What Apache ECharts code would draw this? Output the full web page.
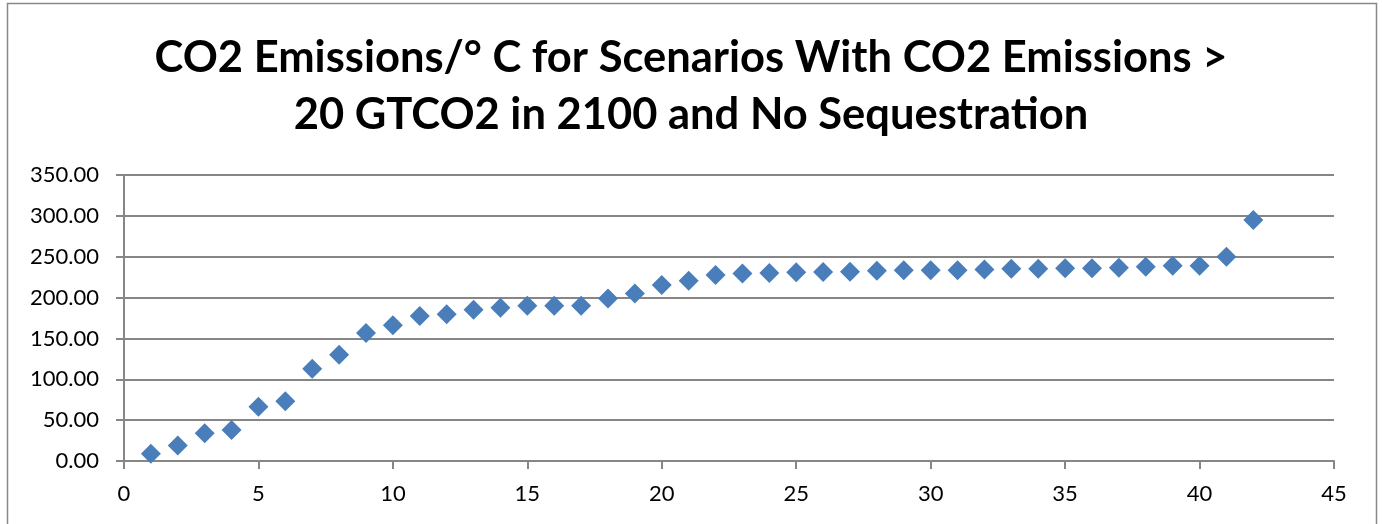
<!DOCTYPE html>
<html><head><meta charset="utf-8">
<script src="https://cdn.jsdelivr.net/npm/echarts@6/dist/echarts.min.js"></script>
<style>html,body{margin:0;padding:0;background:#fff}#c{width:1382px;height:524px}</style>
</head><body><div id="c"></div>
<script>
var titleLines = ["CO2 Emissions/° C for Scenarios With CO2 Emissions >", "20 GTCO2 in 2100 and No Sequestration"];
var scenarioIndex = [1,2,3,4,5,6,7,8,9,10,11,12,13,14,15,16,17,18,19,20,21,22,23,24,25,26,27,28,29,30,31,32,33,34,35,36,37,38,39,40,41,42];
var emissionsPerDegree = [9,19,34,38,66.5,73,113,130,156.5,166,177.5,179.5,185,187.5,190,190,190,199,205,215.5,220.5,227.5,229.5,230,231,231.3,231.7,232.8,233.3,233.3,233.5,234.5,235.3,235.4,235.8,235.8,236.6,237.8,239,239,250,295];
var xTicks = {min:0, max:45, interval:5};
var yTicks = {min:0, max:350, interval:50};

var chart = echarts.init(document.getElementById('c'), null, {renderer:'canvas'});
var pts = scenarioIndex.map(function(x,i){return [x, emissionsPerDegree[i]];});
var font = 'Lato, "Open Sans", sans-serif';
chart.setOption({
  backgroundColor:'#fff',
  animation:false,
  title:{
    text: titleLines.join('\n'),
    left:'center', top:24,
    textStyle:{fontFamily:font, fontWeight:'bold', fontSize:43.5, lineHeight:57, color:'#000'}
  },
  graphic:[{type:'rect', shape:{x:7.5,y:3.5,width:1369,height:530}, style:{fill:null, stroke:'#888', lineWidth:1.5}, silent:true}],
  grid:{left:124, right:48, top:175, bottom:63},
  xAxis:{
    type:'value', min:xTicks.min, max:xTicks.max, interval:xTicks.interval,
    axisLine:{show:true, lineStyle:{color:'#868686', width:2}},
    axisTick:{show:true, length:8, lineStyle:{color:'#868686', width:2}},
    splitLine:{show:false},
    axisLabel:{fontFamily:font, fontSize:22, color:'#000', margin:22}
  },
  yAxis:{
    type:'value', min:yTicks.min, max:yTicks.max, interval:yTicks.interval,
    axisLine:{show:true, lineStyle:{color:'#868686', width:2}},
    axisTick:{show:true, length:8, lineStyle:{color:'#868686', width:2}},
    splitLine:{show:true, lineStyle:{color:'#868686', width:2}},
    axisLabel:{fontFamily:font, fontSize:22, color:'#000', margin:25, formatter:function(v){return v.toFixed(2);}}
  },
  series:[{
    type:'scatter', data:pts, symbol:'diamond', symbolSize:20,
    itemStyle:{color:'#4A7EBB', opacity:1}
  }]
});
</script></body></html>
